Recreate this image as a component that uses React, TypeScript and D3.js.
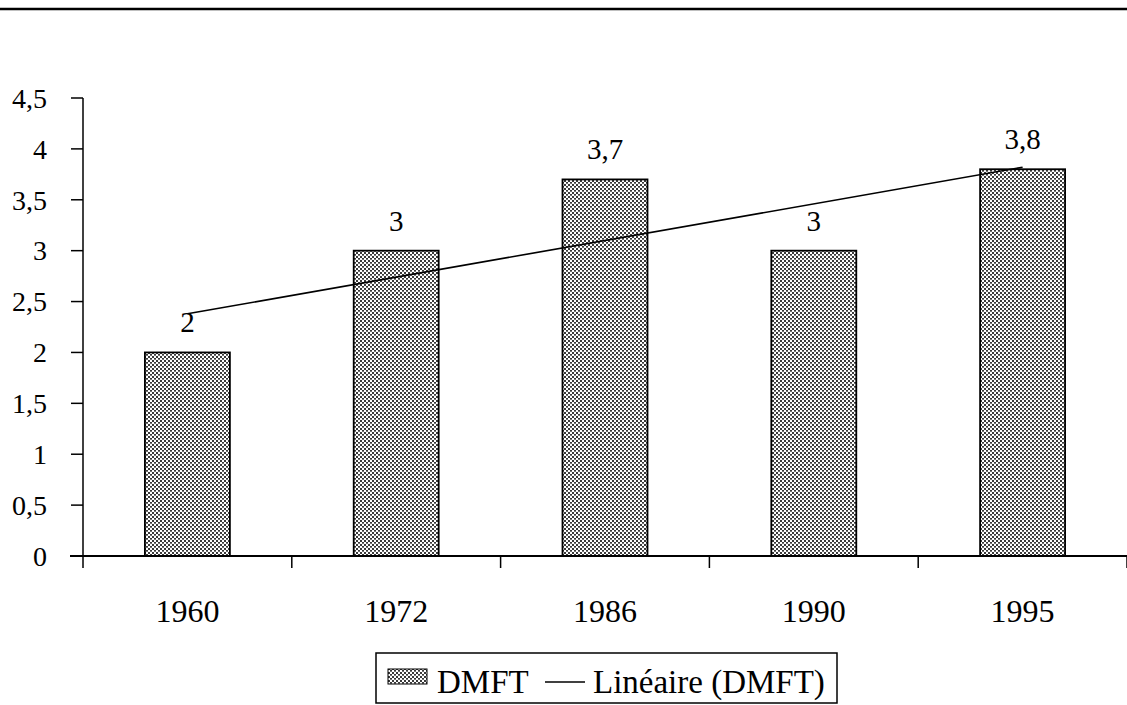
import React from "react";
import * as d3 from "d3";

const years = ["1960", "1972", "1986", "1990", "1995"];
const dmft = [2, 3, 3.7, 3, 3.8];
const yTicks = [0, 0.5, 1, 1.5, 2, 2.5, 3, 3.5, 4, 4.5];
const legendLabels = ["DMFT", "Linéaire (DMFT)"];

const W = 1127;
const H = 705;
const FONT = "Liberation Serif, Tinos, Times New Roman, DejaVu Serif, serif";

export default function App() {
  const x0 = 83;
  const x1 = 1127;
  const x = d3
    .scaleBand<string>()
    .domain(years)
    .range([x0, x1])
    .paddingInner(0.593)
    .paddingOuter(0.2965);
  const y = d3.scaleLinear().domain([0, 4.5]).range([556, 98]);
  const step = x.step();
  const fmt = (v: number) => String(v).replace(".", ",");

  const n = dmft.length;
  const idx = dmft.map((_, i) => i + 1);
  const mx = d3.mean(idx) as number;
  const my = d3.mean(dmft) as number;
  const slope =
    d3.sum(idx.map((xi, i) => (xi - mx) * (dmft[i] - my))) /
    d3.sum(idx.map((xi) => (xi - mx) * (xi - mx)));
  const icpt = my - slope * mx;
  const cx = (i: number) => (x(years[i]) as number) + x.bandwidth() / 2;
  const trendLine = d3
    .line<number>()
    .x((i) => cx(i))
    .y((i) => y(icpt + slope * (i + 1)));

  const boundaries = d3.range(0, years.length + 1).map((i) => x0 + i * step);
  const ts = { fontFamily: FONT } as React.CSSProperties;

  return (
    <svg
      width={W}
      height={H}
      style={{ position: "absolute", left: 0, top: 0, background: "#fff", fontFamily: FONT }}
    >
      <defs>
        <pattern id="chk" width="4" height="4" patternUnits="userSpaceOnUse">
          <rect width="4" height="4" fill="#fff" />
          <rect x="0" y="0" width="2" height="2" fill="#3a3a3a" />
          <rect x="2" y="2" width="2" height="2" fill="#3a3a3a" />
          <rect x="0" y="3" width="4" height="0.6" fill="#fff" opacity="0.5" />
        </pattern>
      </defs>
      <rect width={W} height={H} fill="#fff" />
      <line x1={0} x2={W} y1={9} y2={9} stroke="#000" strokeWidth={2.5} />

      {years.map((yr, i) => (
        <rect
          key={yr}
          x={x(yr)}
          y={y(dmft[i])}
          width={x.bandwidth()}
          height={y(0) - y(dmft[i])}
          fill="url(#chk)"
          stroke="#000"
          strokeWidth={1.8}
        />
      ))}

      <path
        d={trendLine([0, n - 1]) as string}
        fill="none"
        stroke="#000"
        strokeWidth={1.6}
      />

      {years.map((yr, i) => (
        <text
          key={"l" + yr}
          x={cx(i)}
          y={y(dmft[i]) - 20}
          textAnchor="middle"
          fontSize={29}
          fill="#000"
          style={ts}
        >
          {fmt(dmft[i])}
        </text>
      ))}

      <line x1={x0} x2={x0} y1={y(4.5)} y2={y(0)} stroke="#000" strokeWidth={1.5} />
      {yTicks.map((t) => (
        <g key={"y" + t}>
          <line x1={71} x2={x0} y1={y(t)} y2={y(t)} stroke="#000" strokeWidth={1.5} />
          <text
            x={47}
            y={y(t)}
            dy="0.35em"
            textAnchor="end"
            fontSize={28}
            fill="#000"
            style={ts}
          >
            {fmt(t)}
          </text>
        </g>
      ))}

      <line x1={70} x2={W} y1={y(0)} y2={y(0)} stroke="#000" strokeWidth={2} />
      {boundaries.map((b, i) => (
        <line key={"xt" + i} x1={b} x2={b} y1={y(0)} y2={y(0) + 12} stroke="#000" strokeWidth={1.5} />
      ))}
      {years.map((yr, i) => (
        <text key={"xl" + yr} x={cx(i)} y={622} textAnchor="middle" fontSize={32} fill="#000" style={ts}>
          {yr}
        </text>
      ))}

      <rect x={376} y={653} width={461} height={50} fill="#fff" stroke="#000" strokeWidth={1.5} />
      <rect x={388} y={669} width={39} height={15} fill="url(#chk)" stroke="#000" strokeWidth={1} />
      <text x={437} y={693} fontSize={33} fill="#000" style={ts}>
        {legendLabels[0]}
      </text>
      <line x1={545} x2={585} y1={682} y2={682} stroke="#000" strokeWidth={1.6} />
      <text x={593} y={693} fontSize={33} fill="#000" style={ts}>
        {legendLabels[1]}
      </text>
    </svg>
  );
}
